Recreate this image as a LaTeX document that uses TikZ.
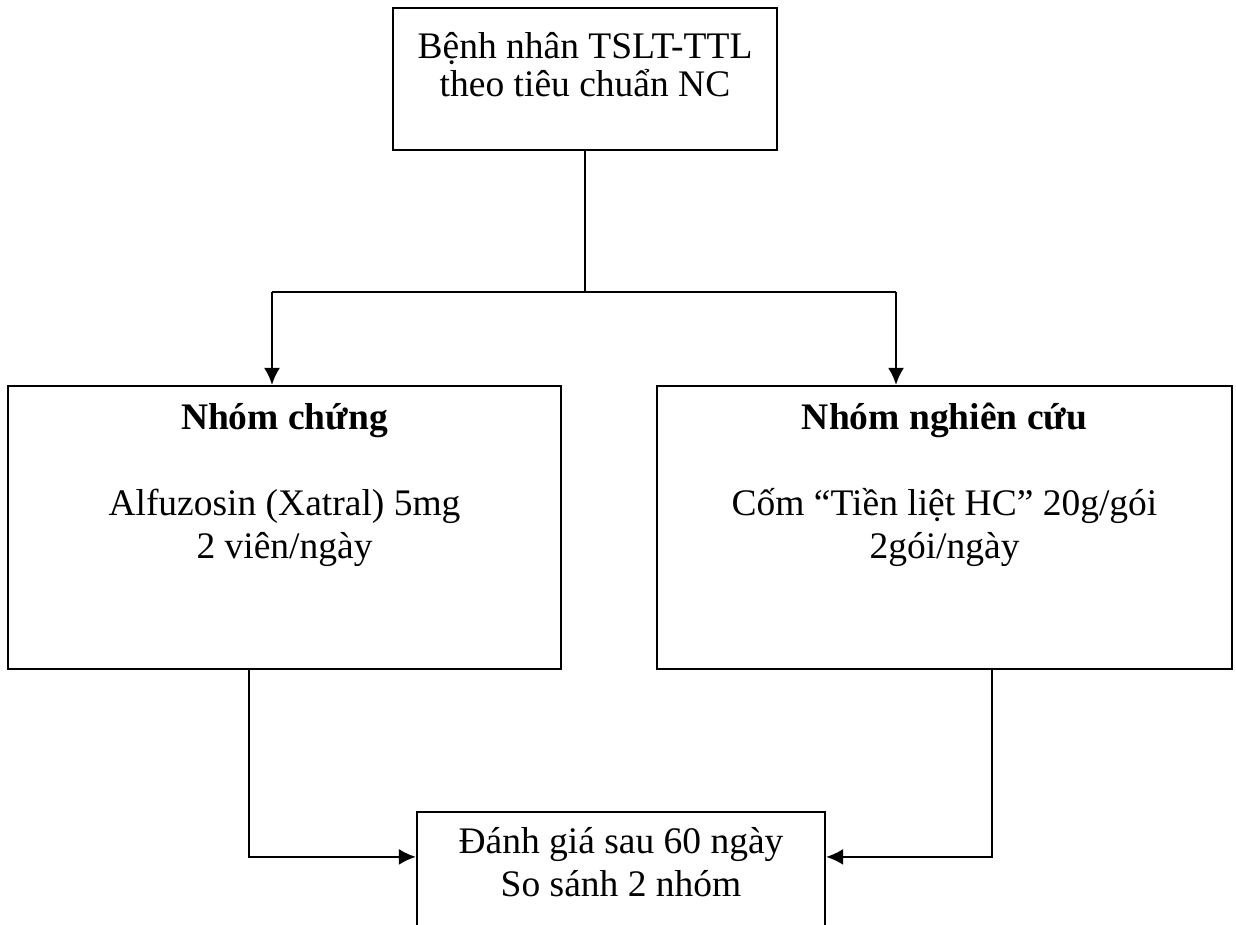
\documentclass[tikz,border=0pt]{standalone}
\usepackage{fontspec}
\setmainfont{Liberation Serif}
\usetikzlibrary{arrows.meta}
\tikzset{
  box/.style={draw, line width=1.1pt, inner sep=0pt},
  lbl/.style={align=center, inner sep=0pt, anchor=base,
    font=\fontsize{18.75}{21.5}\selectfont},
}
\begin{document}
\begin{tikzpicture}[x=0.5pt,y=-0.5pt,line width=1.1pt]
    \useasboundingbox (0,0) rectangle (1236,925);
    % boxes
    \node[box, minimum width=192pt, minimum height=71pt] (patients) at (585,79) {};
    \node[lbl, font=\fontsize{18.75}{19}\selectfont] (patientstxt)
      at ([shift={(0,90)}]patients.north) {Bệnh nhân TSLT-TTL\\theo tiêu chuẩn NC};
    \node[box, minimum width=276.5pt, minimum height=141.5pt] (ctrl) at (284.5,527.5) {};
    \node[lbl] (ctrltxt) at ([shift={(0,174)}]ctrl.north)
      {\textbf{Nhóm chứng}\\[21.5pt]Alfuzosin (Xatral) 5mg\\2 viên/ngày};
    \node[box, minimum width=287.5pt, minimum height=141.5pt] (study) at (944.5,527.5) {};
    \node[lbl] (studytxt) at ([shift={(0,174)}]study.north)
      {\textbf{Nhóm nghiên cứu}\\[21.5pt]Cốm “Tiền liệt HC” 20g/gói\\2gói/ngày};
    \begin{scope}
      \clip (0,0) rectangle (1236,925);
      \node[box, minimum width=204pt, minimum height=75pt] (eval) at (621,887) {};
    \end{scope}
    \node[lbl] (evaltxt) at ([shift={(0,86)}]eval.north)
      {Đánh giá sau 60 ngày\\So sánh 2 nhóm};
    % connectors
    \coordinate (split) at (patients.south |- 0,292);
    \coordinate (lsplit) at (272,292);
    \coordinate (rsplit) at (896,292);
    \draw (patients.south) -- (split);
    \draw (lsplit) -- (rsplit);
    \begin{scope}[-{Latex[length=8.5pt,width=8pt]}]
      \draw (lsplit) -- (lsplit |- ctrl.north);
      \draw (rsplit) -- (rsplit |- study.north);
      \draw ([shift={(-35.5,0)}]ctrl.south) |- ([shift={(0,46)}]eval.north west);
      \draw ([shift={(47.5,0)}]study.south) |- ([shift={(0,46)}]eval.north east);
    \end{scope}
  \end{tikzpicture}
\end{document}
